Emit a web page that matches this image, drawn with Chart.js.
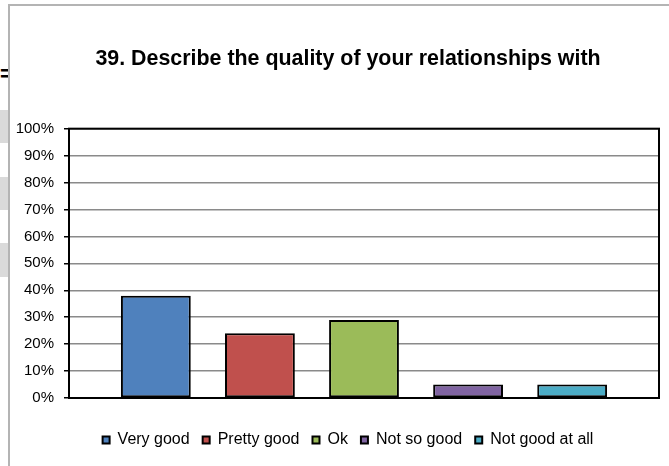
<!DOCTYPE html>
<html>
<head>
<meta charset="utf-8">
<script src="https://cdn.jsdelivr.net/npm/chart.js@4/dist/chart.umd.min.js"></script>
<style>
  html, body { margin: 0; padding: 0; background: #fff; }
  body { width: 669px; height: 466px; position: relative; overflow: hidden; font-family: Arial, "Liberation Sans", sans-serif; }
  .frame { position: absolute; left: 8px; top: 4px; width: 670px; height: 470px; border-left: 2px solid #b4b4b4; border-top: 2px solid #b4b4b4; }
  .side { position: absolute; left: 0; width: 8px; background: #dadada; }
  .cut { position: absolute; left: 0; top: 62px; width: 8px; overflow: hidden; font: bold 22px Arial, sans-serif; color: #000; line-height: 24px; }
  #wrap { position: absolute; left: 10px; top: 6px; width: 659px; height: 460px; }
</style>
</head>
<body>
<div class="cut">=</div>
<div class="side" style="top:110px;height:33px"></div>
<div class="side" style="top:177px;height:33px"></div>
<div class="side" style="top:243px;height:34px"></div>
<div class="frame"></div>
<div id="wrap"><canvas id="chartQuality"></canvas></div>
<script>
// answers to question 39
const answers = ['Very good', 'Pretty good', 'Ok', 'Not so good', 'Not good at all'];
const shares = [38, 24, 29, 5, 5];
const barColors = ['#4F81BD', '#C0504D', '#9BBB59', '#8064A2', '#4BACC6'];
const yTicks = [0, 10, 20, 30, 40, 50, 60, 70, 80, 90, 100];

const dataQuality = {
    labels: [''],
    datasets: answers.map((name, i) => ({
        label: name,
        data: [shares[i]],
        backgroundColor: barColors[i],
        borderColor: '#000',
        borderWidth: 2,
        borderSkipped: false,
        categoryPercentage: 0.882,
        barPercentage: 0.671
    }))
};

// black frame round the plot area, like Excel
const plotBorder = {
    id: 'plotBorder',
    afterDatasetsDraw(chart) {
        const a = chart.chartArea;
        const ctx = chart.ctx;
        ctx.save();
        ctx.strokeStyle = '#000';
        ctx.lineWidth = 2;
        ctx.strokeRect(a.left, a.top, a.right - a.left, a.bottom - a.top);
        ctx.restore();
    }
};

const configQuality = {
    type: 'bar',
    data: dataQuality,
    plugins: [plotBorder],
    options: {
        responsive: true,
        maintainAspectRatio: false,
        animation: false,
        // negative right padding + empty right axis: keeps the title off-centre like the original
        layout: { padding: { left: 4, right: -13, top: 0, bottom: 8 } },
        plugins: {
            title: {
                display: true,
                text: '39. Describe the quality of your relationships with',
                color: '#000',
                font: { family: 'Arial, "Liberation Sans", sans-serif', size: 21.4, weight: 'bold' },
                padding: { top: 40, bottom: 57 }
            },
            legend: {
                position: 'bottom',
                labels: {
                    color: '#000',
                    boxWidth: 7,
                    boxHeight: 7,
                    padding: 13,
                    font: { family: 'Arial, "Liberation Sans", sans-serif', size: 16 }
                }
            },
            tooltip: { enabled: false }
        },
        scales: {
            x: {
                grid: { display: false },
                border: { color: '#000', width: 2 },
                ticks: { display: false },
                afterFit(scale) { scale.height = 21; }
            },
            y: {
                min: 0,
                max: 100,
                afterBuildTicks(scale) { scale.ticks = yTicks.map(v => ({ value: v })); },
                grid: { color: '#8a8a8a', lineWidth: 1.5, tickLength: 5, tickColor: '#000' },
                border: { color: '#000', width: 2 },
                ticks: {
                    color: '#000',
                    padding: 10,
                    font: { family: 'Arial, "Liberation Sans", sans-serif', size: 15 },
                    callback: v => v + '%'
                },
                afterFit(scale) { scale.width = 55; }
            },
            yRight: {
                position: 'right',
                grid: { display: false },
                border: { display: false },
                ticks: { display: false },
                afterFit(scale) { scale.width = 23; }
            }
        }
    }
};

const chartQuality = new Chart(
    document.getElementById('chartQuality'),
    configQuality
);
</script>
</body>
</html>
